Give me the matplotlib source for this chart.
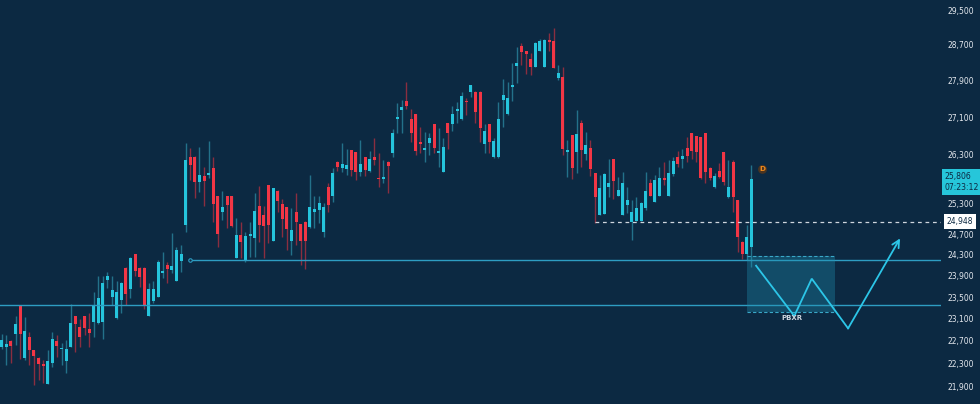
import matplotlib
matplotlib.use("Agg")
import matplotlib.pyplot as plt
import matplotlib.transforms as mtransforms
from matplotlib.ticker import FixedLocator, FuncFormatter, NullLocator
import numpy as np

# ── Data ───────────────────────────────────────────────────────────────────────

OPENS = [
    22590, 22590, 22700, 22820, 23330, 22385, 22770, 22530, 22390, 22285,
    21935, 22297, 22700, 22547, 22337, 22583, 23149, 22953, 23149, 22905,
    23045, 23027, 23045, 23819, 23506, 23106, 23444, 24052, 23644, 24314,
    24052, 24052, 23149, 23431, 23506, 23957, 24109, 24008, 23800, 24180,
    24879, 26262, 26262, 25748, 25871, 25879, 26021, 25458, 25142, 25458,
    25458, 24243, 24677, 24199, 24669, 24617, 25257, 25077, 25681, 24566,
    25560, 25291, 25230, 24566, 25130, 24899, 24945, 24845, 25142, 25176,
    24747, 25647, 25458, 26159, 26034, 26010, 26403, 26355, 25952, 26249,
    25966, 26249, 25818, 25798, 26159, 26347, 27052, 27252, 27455, 27052,
    27160, 26564, 26403, 26542, 26951, 26335, 25952, 26966, 26945, 27237,
    27052, 27455, 27652, 27652, 27652, 26529, 26951, 26249, 26249, 27462,
    27160, 27763, 28229, 28673, 28554, 28377, 28207, 28558, 28207, 28803,
    28781, 27960, 27982, 26370, 26718, 26369, 26966, 26314, 26445, 25919,
    25077, 25097, 25647, 26208, 25458, 25077, 25277, 24945, 24958, 24958,
    25209, 25716, 25344, 25458, 25818, 25458, 25905, 26262, 26208, 26445,
    26754, 26697, 26669, 26754, 26034, 25647, 25966, 26355, 25444, 26159,
    25377, 24552, 24314, 24443,
]
HIGHS = [
    22820, 22800, 22720, 23140, 23340, 23125, 22860, 22540, 22415, 22355,
    22533, 22851, 22800, 22652, 22712, 23364, 23150, 23087, 23150, 23199,
    23599, 23900, 23900, 23976, 23900, 23806, 23787, 24060, 24262, 24320,
    24060, 24060, 23756, 23806, 24199, 24359, 24166, 24716, 24443, 24488,
    26542, 26453, 26270, 26466, 26055, 26591, 26249, 25465, 25560, 25465,
    25465, 25011, 24945, 24747, 24945, 25514, 25662, 25257, 25690, 25620,
    25570, 25391, 25235, 25209, 25514, 24905, 24950, 25885, 25458, 25458,
    25311, 25728, 26034, 26170, 26542, 26432, 26410, 26360, 26612, 26255,
    26383, 26648, 26347, 26194, 26170, 26838, 27406, 27462, 27857, 27280,
    27170, 26879, 26775, 26754, 26960, 26870, 26660, 26975, 27331, 27428,
    27652, 27510, 27800, 27660, 27660, 26951, 26960, 26648, 27420, 27921,
    27870, 28282, 28658, 28730, 28560, 28520, 28765, 28840, 28840, 28967,
    29083, 28245, 28207, 26612, 26725, 27252, 27037, 26775, 26612, 25925,
    25885, 25919, 26208, 26215, 25851, 25952, 25647, 25377, 25444, 25330,
    25952, 25797, 25885, 26055, 26159, 26194, 26262, 26383, 26432, 26682,
    26760, 26705, 26675, 26760, 26040, 25919, 26138, 26360, 26194, 26194,
    25385, 24560, 24879, 26090,
]
LOWS = [
    22560, 22270, 22300, 22620, 22370, 22355, 22270, 21920, 22005, 21945,
    21930, 22238, 22414, 22267, 22132, 22580, 22503, 22594, 22802, 22583,
    22772, 23002, 22730, 23663, 23351, 23100, 23210, 23351, 23476, 23900,
    23693, 23277, 23140, 23383, 23500, 23851, 23756, 23945, 23795, 23976,
    24747, 25783, 25411, 25545, 25257, 25818, 24945, 24443, 24978, 24814,
    24845, 24240, 24231, 24166, 24262, 24262, 24552, 24231, 24533, 24560,
    25142, 24650, 24391, 24294, 24488, 24103, 24027, 24814, 24814, 24913,
    24650, 25142, 25344, 25966, 25952, 25885, 25865, 25783, 25865, 25865,
    25952, 26090, 25647, 25716, 25526, 26249, 26754, 26754, 27280, 26577,
    26300, 26330, 26159, 26300, 26347, 26055, 25945, 26432, 26803, 26966,
    27037, 27140, 27540, 26966, 26577, 26335, 26335, 26240, 26240, 26893,
    27145, 27440, 27836, 28245, 28042, 28020, 28200, 28550, 28200, 28558,
    28180, 27908, 26300, 25851, 25797, 25919, 26055, 26194, 25865, 24912,
    25070, 25090, 25444, 25397, 25450, 25070, 25111, 24585, 24950, 24950,
    25176, 25450, 25340, 25450, 25681, 25450, 25865, 26055, 26021, 26159,
    26208, 26159, 25797, 25716, 25783, 25614, 25818, 25681, 25420, 25142,
    24359, 24212, 24199, 24066,
]
CLOSES = [
    22710, 22650, 22605, 23000, 22830, 22870, 22530, 22425, 22285, 22250,
    22343, 22736, 22605, 22576, 22547, 23015, 22997, 22772, 22935, 22845,
    23351, 23476, 23768, 23894, 23631, 23588, 23756, 23550, 24237, 23995,
    23881, 23338, 23655, 23644, 24161, 23976, 24027, 24084, 24385, 24320,
    26194, 26090, 25748, 25885, 25769, 25932, 25297, 24694, 25230, 25277,
    24865, 24683, 24546, 24670, 24703, 25162, 24879, 24865, 24879, 25614,
    25357, 24998, 24801, 24781, 24933, 24572, 24572, 25243, 25189, 25311,
    25243, 25277, 25932, 26055, 26104, 26090, 25987, 25952, 26104, 25987,
    26208, 26194, 25798, 25838, 26069, 26767, 27108, 27317, 27331, 26754,
    26389, 26529, 26453, 26648, 26453, 26383, 26466, 26767, 27160, 27273,
    27557, 27418, 27798, 27215, 26859, 26810, 26577, 26591, 27058, 27579,
    27510, 27798, 28282, 28533, 28485, 28207, 28730, 28781, 28818, 28765,
    28184, 28071, 26432, 26383, 26021, 26733, 26403, 26508, 26007, 25444,
    25614, 25899, 25716, 25763, 25580, 25716, 25377, 25142, 25223, 25324,
    25560, 25458, 25783, 25818, 25777, 25919, 26180, 26111, 26276, 26276,
    26383, 26355, 25830, 25952, 25830, 25871, 25851, 25748, 25647, 25444,
    24640, 24314, 24640, 25806,
]

PRICE_TICKS = [29500, 28700, 27900, 27100, 26300, 25300, 24700, 24300,
               23900, 23500, 23100, 22700, 22300, 21900]

LAST_PRICE = 25806
LAST_TIMER = "07:23:12"
DASHED_LEVEL = 24948
SUPPORT_LEVEL = 24190
LOWER_LEVEL = 23350

# projected path (bar index, price)
PATH_X = [164.0, 172.3, 176.1, 184.0, 195.3]
PATH_Y = [24090, 23149, 23844, 22923, 24617]

ZONE_X = [162.1, 181.2]
ZONE_Y = [23222, 24280]

# ── Style ──────────────────────────────────────────────────────────────────────

BG = "#0c2942"
UP = "#25c4dc"
DOWN = "#f23645"
UP_WICK = "#23718a"
DOWN_WICK = "#8a2e40"
LINE = "#2e9dc2"
PATH = "#2cc6e8"
TEXT = "#e4e8ee"

plt.rcParams["font.family"] = ["DejaVu Sans"]

fig = plt.figure(figsize=(9.8, 4.04), dpi=100, facecolor=BG)
ax = fig.add_axes([0, 0, 941 / 980, 1])
ax.set_facecolor(BG)

o = np.array(OPENS, dtype=float)
h = np.array(HIGHS, dtype=float)
l = np.array(LOWS, dtype=float)
c = np.array(CLOSES, dtype=float)
x = np.arange(len(o))
up = c >= o

# wicks
ax.vlines(x[up], l[up], h[up], color=UP_WICK, lw=1.0, zorder=2)
ax.vlines(x[~up], l[~up], h[~up], color=DOWN_WICK, lw=1.0, zorder=2)

# bodies
bottom = np.minimum(o, c)
height = np.maximum(np.abs(c - o), bottom * 0.0012)
ax.bar(x[up], height[up], bottom=bottom[up], width=0.66, color=UP, zorder=3, linewidth=0)
ax.bar(x[~up], height[~up], bottom=bottom[~up], width=0.66, color=DOWN, zorder=3, linewidth=0)

# horizontal levels
ax.hlines(SUPPORT_LEVEL, 40.9, 300, color=LINE, lw=1.0, zorder=4)
ax.plot(40.9, SUPPORT_LEVEL, "o", ms=2.5, mfc=BG, mec=LINE, mew=0.8, zorder=5)
ax.hlines(LOWER_LEVEL, -5, 300, color=LINE, lw=1.0, zorder=4)
ax.hlines(DASHED_LEVEL, 129, 300, color="#cfd6de", lw=0.9, linestyles=(0, (3, 3)), zorder=4)

# zone box
ax.fill_between(ZONE_X, ZONE_Y[0], ZONE_Y[1], color="#1e90b0", alpha=0.35, lw=0, zorder=4)
for yy in ZONE_Y:
    ax.hlines(yy, ZONE_X[0], ZONE_X[1], color="#3aa8c8", lw=0.8, linestyles=(0, (3, 2)), zorder=5)

# projected path
ax.plot(PATH_X[:-1], PATH_Y[:-1], color=PATH, lw=1.3, zorder=6, solid_joinstyle="miter")
ax.annotate("", xy=(PATH_X[-1], PATH_Y[-1]), xytext=(PATH_X[-2], PATH_Y[-2]),
            arrowprops=dict(arrowstyle="->", color=PATH, lw=1.3, mutation_scale=13,
                            shrinkA=0, shrinkB=0), zorder=6)
ax.text(171.7, 23117, "PBXR", color="#cdd5de", fontsize=5, fontweight="bold",
        ha="center", va="center", zorder=7)

# dividend marker
ax.text(165.4, 26001, "D", color="#f08a1c", fontsize=5.3, fontweight="bold",
        ha="center", va="center", zorder=7,
        bbox=dict(boxstyle="circle,pad=0.2", fc="#4a3421", ec="none"))

# axes
ax.set_yscale("log")
ax.set_xlim(-0.37, 204.2)
ax.set_ylim(21590, 29735)
ax.yaxis.tick_right()
ax.yaxis.set_major_locator(FixedLocator(PRICE_TICKS))
ax.yaxis.set_minor_locator(NullLocator())
ax.yaxis.set_major_formatter(FuncFormatter(lambda v, p: f"{v:,.0f}"))
ax.tick_params(axis="y", length=0, pad=5, labelsize=5.5, colors=TEXT)
ax.set_xticks([])
for s in ax.spines.values():
    s.set_visible(False)

trans = mtransforms.blended_transform_factory(ax.transAxes, ax.transData)
shift = mtransforms.ScaledTranslation(0, -3 / 100, fig.dpi_scale_trans)
ax.text(1.004, LAST_PRICE, f"{LAST_PRICE:,}\n{LAST_TIMER}", transform=trans + shift,
        ha="left", va="center", fontsize=5.6, color="#0c2942", linespacing=1.35,
        clip_on=False, zorder=8,
        bbox=dict(boxstyle="square,pad=0.4", fc="#26c6da", ec="none"))
ax.text(1.006, DASHED_LEVEL, f"{DASHED_LEVEL:,}", transform=trans,
        ha="left", va="center", fontsize=5.5, color="#0c2942",
        clip_on=False, zorder=8,
        bbox=dict(boxstyle="square,pad=0.35", fc="#ffffff", ec="none"))

fig.savefig("out.png", dpi=100, facecolor=BG)
